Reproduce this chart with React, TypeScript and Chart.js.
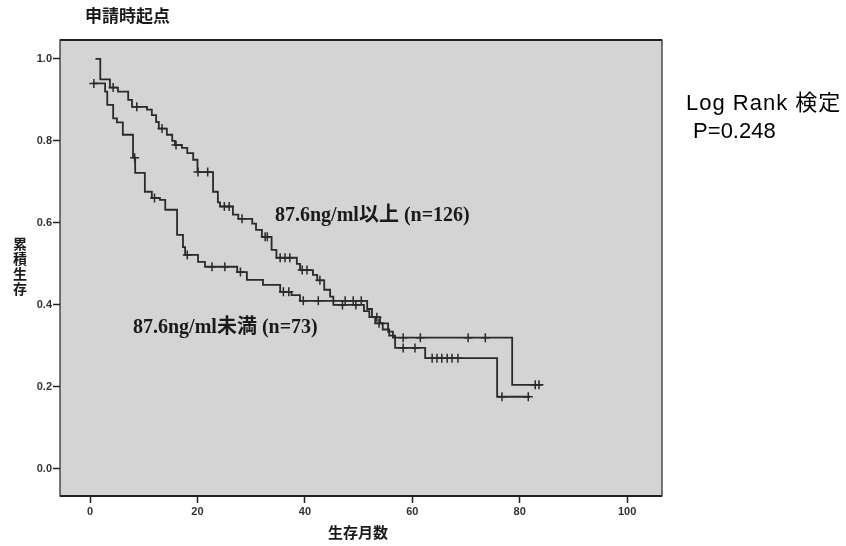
import React, { useEffect, useRef } from 'react';
import { Chart, registerables } from 'chart.js';

Chart.register(...registerables);

// Axis ticks
const xTicks = [0, 20, 40, 60, 80, 100];
const yTicks = [0, 0.2, 0.4, 0.6, 0.8, 1.0];

// 87.6ng/ml以上 (n=126): event times (months) and survival after each step
const highTimes = [1.0, 1.9, 3.7, 5.2, 7.1, 7.8, 10.6, 11.5, 12.3, 12.8, 14.3, 15.3, 15.8, 17.1, 18.1, 19.2, 20.0, 22.9, 23.8, 24.2, 26.6, 27.6, 30.2, 30.9, 32.0, 33.8, 34.7, 38.5, 39.1, 41.5, 42.3, 43.6, 44.7, 45.3, 51.0, 52.0, 53.1, 54.5, 55.7, 56.8, 62.4, 75.8, 81.9];
const highSurv = [1.0, 0.95, 0.93, 0.92, 0.9, 0.883, 0.876, 0.863, 0.846, 0.83, 0.815, 0.8, 0.79, 0.783, 0.77, 0.754, 0.724, 0.676, 0.65, 0.64, 0.62, 0.61, 0.598, 0.583, 0.566, 0.534, 0.515, 0.5, 0.485, 0.473, 0.46, 0.437, 0.42, 0.4, 0.385, 0.37, 0.355, 0.34, 0.325, 0.295, 0.27, 0.176, 0.176];
const highCensored = [4.3, 8.7, 13.4, 16.0, 20.1, 21.9, 25.0, 25.9, 28.3, 32.6, 33.0, 35.4, 36.3, 37.2, 39.5, 40.4, 42.8, 47.0, 49.5, 53.8, 58.3, 60.5, 63.7, 64.6, 65.5, 66.5, 67.4, 68.5, 76.7, 81.6];

// 87.6ng/ml未満 (n=73)
const lowTimes = [0.5, 2.8, 3.2, 4.3, 5.0, 6.1, 8.0, 8.4, 10.2, 11.5, 13.0, 14.0, 16.2, 17.3, 17.7, 20.1, 21.4, 27.4, 29.2, 32.2, 35.4, 37.5, 39.1, 51.6, 52.5, 54.0, 55.5, 56.4, 78.6, 84.2];
const lowSurv = [0.94, 0.92, 0.888, 0.855, 0.845, 0.815, 0.759, 0.722, 0.676, 0.661, 0.656, 0.632, 0.571, 0.541, 0.522, 0.505, 0.493, 0.48, 0.461, 0.449, 0.432, 0.424, 0.41, 0.39, 0.37, 0.355, 0.335, 0.32, 0.205, 0.205];
const lowCensored = [0.7, 8.3, 12.0, 18.1, 22.7, 25.1, 28.0, 36.0, 37.0, 39.7, 42.5, 47.5, 49.0, 50.5, 53.4, 58.3, 61.5, 70.4, 73.6, 82.9, 83.6];

// Texts
const chartTitle = '申請時起点';
const yTitle = '累積生存';
const xTitle = '生存月数';
const highLabel = '87.6ng/ml以上 (n=126)';
const lowLabel = '87.6ng/ml未満 (n=73)';
const testLine1 = 'Log Rank 検定';
const testLine2 = ' P=0.248';

const LINE_COLOR = '#2a2a2a';

function survAt(times: number[], surv: number[], t: number): number {
  let s = surv[0];
  for (let i = 0; i < times.length; i++) {
    if (times[i] <= t) s = surv[i];
  }
  return s;
}

const framePlugin = {
  id: 'frame',
  beforeDatasetsDraw(chart: any) {
    const { ctx, chartArea: a } = chart;
    ctx.save();
    ctx.fillStyle = '#d4d4d4';
    ctx.fillRect(a.left, a.top, a.right - a.left, a.bottom - a.top);
    ctx.restore();
  },
  afterDatasetsDraw(chart: any) {
    const { ctx, chartArea: a } = chart;
    ctx.save();
    ctx.strokeStyle = '#222';
    ctx.lineWidth = 1.2;
    ctx.strokeRect(a.left, a.top, a.right - a.left, a.bottom - a.top);
    ctx.lineWidth = 2;
    ctx.beginPath();
    ctx.moveTo(a.left, a.top);
    ctx.lineTo(a.right, a.top);
    ctx.moveTo(a.left, a.bottom);
    ctx.lineTo(a.right, a.bottom);
    ctx.stroke();
    ctx.restore();
  },
};

const textPlugin = {
  id: 'texts',
  afterDraw(chart: any) {
    const ctx = chart.ctx;
    ctx.save();
    ctx.fillStyle = '#1a1a1a';
    ctx.textBaseline = 'middle';
    ctx.textAlign = 'left';
    ctx.font = 'bold 17px "Noto Sans CJK JP", sans-serif';
    ctx.fillText(chartTitle, 85, 16);

    ctx.textAlign = 'center';
    ctx.font = 'bold 14px "Noto Sans CJK JP", sans-serif';
    const chars = Array.from(yTitle);
    chars.forEach((c, i) => ctx.fillText(c, 20, 244 + i * 15));

    ctx.font = 'bold 15px "Noto Sans CJK JP", sans-serif';
    ctx.fillText(xTitle, 358, 532);

    ctx.textAlign = 'left';
    ctx.textBaseline = 'alphabetic';
    ctx.font = 'bold 20px "Liberation Serif", "Noto Sans CJK JP", serif';
    ctx.fillText(highLabel, 275, 221);
    ctx.fillText(lowLabel, 133, 333);

    ctx.fillStyle = '#000';
    ctx.font = '22px "Liberation Sans", "Noto Sans CJK JP", sans-serif';
    (ctx as any).letterSpacing = '1px';
    ctx.fillText(testLine1, 686, 110);
    (ctx as any).letterSpacing = '0px';
    ctx.fillText(testLine2, 687, 138);
    ctx.restore();
  },
};

export default function App() {
  const ref = useRef<HTMLCanvasElement | null>(null);

  useEffect(() => {
    document.body.style.margin = '0';
    const canvas = ref.current;
    if (!canvas) return;

    const highLine = highTimes.map((t, i) => ({ x: t, y: highSurv[i] }));
    const lowLine = lowTimes.map((t, i) => ({ x: t, y: lowSurv[i] }));
    const highMarks = highCensored.map((t) => ({ x: t, y: survAt(highTimes, highSurv, t) }));
    const lowMarks = lowCensored.map((t) => ({ x: t, y: survAt(lowTimes, lowSurv, t) }));

    const tickFont = { family: '"Liberation Sans", Arial, sans-serif', size: 11, weight: 'bold' as const };

    const chart = new Chart(canvas, {
      type: 'line',
      data: {
        datasets: [
          {
            label: highLabel,
            data: highLine,
            stepped: true,
            borderColor: LINE_COLOR,
            borderWidth: 1.8,
            pointRadius: 0,
            fill: false,
          },
          {
            label: lowLabel,
            data: lowLine,
            stepped: true,
            borderColor: LINE_COLOR,
            borderWidth: 1.8,
            pointRadius: 0,
            fill: false,
          },
          {
            type: 'scatter',
            label: 'high censored',
            data: highMarks,
            showLine: false,
            pointStyle: 'cross',
            pointRadius: 4.5,
            borderColor: LINE_COLOR,
            borderWidth: 1.5,
          } as any,
          {
            type: 'scatter',
            label: 'low censored',
            data: lowMarks,
            showLine: false,
            pointStyle: 'cross',
            pointRadius: 4.5,
            borderColor: LINE_COLOR,
            borderWidth: 1.5,
          } as any,
        ],
      },
      options: {
        responsive: false,
        animation: false,
        layout: { padding: { top: 40, right: 184, left: 0, bottom: 0 } },
        plugins: {
          legend: { display: false },
          tooltip: { enabled: false },
          title: { display: false },
        },
        scales: {
          x: {
            type: 'linear',
            min: -5.6,
            max: 106.5,
            afterFit: (s: any) => {
              s.height = 50;
            },
            afterBuildTicks: (s: any) => {
              s.ticks = xTicks.map((v) => ({ value: v }));
            },
            ticks: {
              font: tickFont,
              color: '#333',
              padding: 2,
              maxRotation: 0,
              callback: (v: any) => String(v),
            },
            grid: {
              drawOnChartArea: false,
              drawTicks: true,
              tickLength: 7,
              tickColor: '#222',
              tickWidth: 1.5,
            },
            border: { display: false },
          },
          y: {
            type: 'linear',
            min: -0.066,
            max: 1.046,
            afterFit: (s: any) => {
              s.width = 60;
            },
            afterBuildTicks: (s: any) => {
              s.ticks = yTicks.map((v) => ({ value: v }));
            },
            ticks: {
              font: tickFont,
              color: '#333',
              padding: 1,
              callback: (v: any) => Number(v).toFixed(1),
            },
            grid: {
              drawOnChartArea: false,
              drawTicks: true,
              tickLength: 7,
              tickColor: '#222',
              tickWidth: 1.5,
            },
            border: { display: false },
          },
        },
      },
      plugins: [framePlugin, textPlugin],
    } as any);

    return () => chart.destroy();
  }, []);

  return (
    <div style={{ width: 846, height: 546, background: '#fff' }}>
      <canvas ref={ref} width={846} height={546} style={{ display: 'block' }} />
    </div>
  );
}
